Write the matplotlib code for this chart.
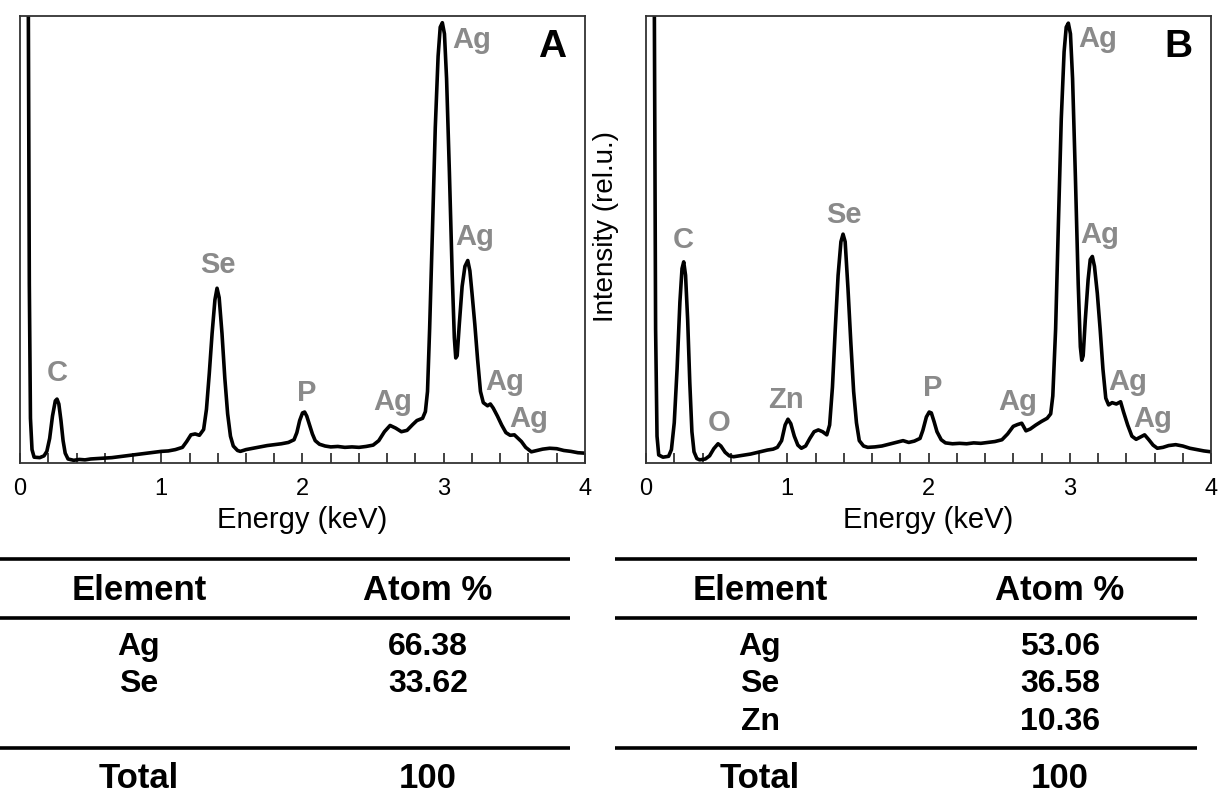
import matplotlib
matplotlib.use("Agg")
import matplotlib.pyplot as plt
from matplotlib.ticker import MultipleLocator

plt.rcParams['font.family'] = ['Liberation Sans', 'DejaVu Sans']

# --- spectrum A (energy in keV, intensity in % of axis height) ---
energy_a = [0.040, 0.058, 0.066, 0.074, 0.085, 0.100, 0.140, 0.170, 0.190, 0.210,
            0.230, 0.250, 0.262, 0.275, 0.290, 0.305, 0.320, 0.340, 0.380, 0.420,
            0.460, 0.500, 0.550, 0.600, 0.650, 0.700, 0.750, 0.800, 0.850, 0.900,
            0.950, 1.000, 1.050, 1.100, 1.150, 1.180, 1.210, 1.240, 1.270, 1.300,
            1.320, 1.340, 1.360, 1.380, 1.395, 1.410, 1.430, 1.450, 1.470, 1.490,
            1.510, 1.540, 1.560, 1.600, 1.650, 1.700, 1.750, 1.800, 1.850, 1.900,
            1.940, 1.960, 1.980, 2.000, 2.015, 2.030, 2.050, 2.070, 2.090, 2.120,
            2.160, 2.200, 2.250, 2.300, 2.350, 2.400, 2.450, 2.500, 2.540, 2.580,
            2.620, 2.660, 2.700, 2.740, 2.780, 2.810, 2.850, 2.870, 2.885, 2.900,
            2.920, 2.940, 2.960, 2.975, 2.990, 3.005, 3.020, 3.040, 3.060, 3.075,
            3.085, 3.095, 3.110, 3.130, 3.150, 3.170, 3.185, 3.200, 3.220, 3.240,
            3.260, 3.280, 3.310, 3.330, 3.350, 3.380, 3.410, 3.440, 3.470, 3.500,
            3.520, 3.550, 3.580, 3.620, 3.660, 3.700, 3.750, 3.800, 3.850, 3.900,
            3.950, 4.000]
counts_a = [120, 110, 40, 10, 3.0, 1.3, 1.2, 1.6, 2.6, 5.5,
            10.5, 13.9, 14.3, 13.2, 9.5, 5.0, 2.2, 0.9, 0.6, 0.8,
            0.7, 0.9, 1.0, 1.1, 1.2, 1.4, 1.6, 1.8, 2.0, 2.2,
            2.4, 2.6, 2.7, 3.0, 3.5, 4.8, 6.3, 6.5, 6.2, 7.5,
            12, 20, 29, 36.5, 39.1, 37, 29, 19, 11, 6.0,
            3.8, 2.8, 2.6, 3.0, 3.3, 3.6, 3.9, 4.1, 4.3, 4.6,
            5.2, 6.8, 9.5, 11.2, 11.4, 10.5, 8.5, 6.5, 5.0, 4.2,
            3.8, 3.6, 3.7, 3.5, 3.6, 3.5, 3.7, 4.0, 5.0, 7.0,
            8.4, 7.8, 7.0, 7.3, 8.6, 9.5, 10.0, 11.5, 16, 30,
            52, 75, 91, 97.5, 98.5, 96, 86, 65, 42, 28,
            23.5, 24, 31, 39.5, 44, 45.3, 43, 38, 31, 23,
            16, 13.5, 12.8, 13.2, 12.3, 10.5, 8.5, 6.8, 6.2, 6.3,
            5.7, 4.8, 3.5, 2.5, 2.8, 3.1, 3.3, 3.2, 2.8, 2.6,
            2.3, 2.2]

# --- spectrum B ---
energy_b = [0.040, 0.058, 0.068, 0.078, 0.090, 0.120, 0.160, 0.180, 0.200, 0.220,
            0.240, 0.255, 0.267, 0.280, 0.295, 0.310, 0.325, 0.340, 0.360, 0.380,
            0.420, 0.450, 0.480, 0.510, 0.530, 0.560, 0.590, 0.620, 0.660, 0.700,
            0.740, 0.780, 0.820, 0.860, 0.900, 0.930, 0.960, 0.985, 1.005, 1.025,
            1.050, 1.075, 1.100, 1.130, 1.160, 1.190, 1.220, 1.250, 1.280, 1.300,
            1.320, 1.340, 1.360, 1.380, 1.395, 1.410, 1.430, 1.450, 1.470, 1.490,
            1.510, 1.540, 1.570, 1.620, 1.670, 1.720, 1.770, 1.820, 1.860, 1.900,
            1.940, 1.960, 1.985, 2.005, 2.020, 2.040, 2.060, 2.090, 2.120, 2.170,
            2.220, 2.270, 2.320, 2.370, 2.420, 2.470, 2.520, 2.560, 2.600, 2.630,
            2.660, 2.690, 2.720, 2.760, 2.800, 2.840, 2.865, 2.880, 2.900, 2.920,
            2.940, 2.960, 2.975, 2.990, 3.005, 3.020, 3.040, 3.060, 3.075, 3.085,
            3.095, 3.110, 3.130, 3.145, 3.160, 3.175, 3.195, 3.215, 3.235, 3.255,
            3.275, 3.300, 3.330, 3.360, 3.380, 3.410, 3.440, 3.470, 3.500, 3.530,
            3.560, 3.590, 3.620, 3.660, 3.700, 3.750, 3.800, 3.850, 3.900, 3.950,
            4.000]
counts_b = [120, 110, 30, 6.0, 1.8, 1.3, 1.5, 3.0, 9.0, 21,
            36, 43.5, 45, 42, 32, 18, 7.0, 2.5, 1.0, 0.7,
            0.9, 1.6, 3.2, 4.3, 3.8, 2.4, 1.6, 1.4, 1.6, 1.8,
            2.0, 2.3, 2.6, 2.9, 3.1, 3.5, 5.0, 8.5, 9.8, 8.8,
            6.0, 4.0, 3.3, 3.8, 5.5, 7.0, 7.4, 7.0, 6.3, 8.5,
            17, 30, 42, 49.5, 51.2, 49.5, 39, 27, 16, 9.0,
            5.0, 3.8, 3.5, 3.6, 3.8, 4.2, 4.6, 5.0, 4.6, 4.9,
            5.5, 7.3, 10.3, 11.4, 11.2, 9.2, 7.0, 5.2, 4.5, 4.3,
            4.4, 4.3, 4.5, 4.4, 4.6, 4.8, 5.2, 6.5, 8.2, 8.6,
            8.9, 7.2, 7.6, 8.5, 9.3, 10.0, 11.0, 15, 30, 54,
            77, 92, 97.5, 98.4, 96, 86, 64, 40, 26, 23,
            24, 32, 41, 45.5, 46.2, 44, 38, 30, 21, 14.5,
            13.0, 13.5, 13.2, 13.7, 11.5, 8.5, 6.0, 5.3, 5.8, 6.3,
            5.2, 4.0, 3.3, 3.5, 3.9, 4.1, 3.8, 3.3, 3.0, 2.7,
            2.5]

# peak labels: (text, energy, height)
labels_a = [("C", 0.265, 20.1), ("Se", 1.40, 44.3), ("P", 2.03, 15.7),
            ("Ag", 2.64, 13.7), ("Ag", 3.20, 94.6), ("Ag", 3.22, 50.6),
            ("Ag", 3.43, 18.2), ("Ag", 3.60, 9.8)]
labels_b = [("C", 0.267, 49.9), ("O", 0.515, 9.0), ("Zn", 0.993, 14.2),
            ("Se", 1.40, 55.5), ("P", 2.03, 16.8), ("Ag", 2.63, 13.7),
            ("Ag", 3.20, 94.8), ("Ag", 3.21, 51.0), ("Ag", 3.41, 18.2),
            ("Ag", 3.59, 9.8)]

# composition tables
elements_a = ["Ag", "Se"]
atom_pct_a = ["66.38", "33.62"]
total_a = "100"
elements_b = ["Ag", "Se", "Zn"]
atom_pct_b = ["53.06", "36.58", "10.36"]
total_b = "100"

W, H = 1225, 796
fig = plt.figure(figsize=(W / 100, H / 100), dpi=100)

label_grey = "#8a8a8a"


def spectrum(ax, energy, counts, labels, letter, ylabel=False):
    ax.plot(energy, counts, color="black", lw=2.6, solid_joinstyle="round")
    ax.set_xlim(0, 4)
    ax.set_ylim(0, 100)
    ax.set_yticks([])
    ax.xaxis.set_major_locator(MultipleLocator(1))
    ax.xaxis.set_minor_locator(MultipleLocator(0.2))
    ax.tick_params(axis="x", which="both", direction="in", length=7,
                   width=1.2, color="#222222", labelsize=17, pad=11)
    for sp in ax.spines.values():
        sp.set_linewidth(1.3)
        sp.set_color("#333333")
    ax.set_xlabel("Energy (keV)", fontsize=21, labelpad=4)
    for txt, x, y in labels:
        ax.text(x, y, txt, color=label_grey, fontsize=21, fontweight="bold",
                ha="center", va="center")
    ax.text(3.77, 93, letter, fontsize=28, fontweight="bold",
            ha="center", va="center")
    if ylabel:
        ax.set_ylabel("Intensity (rel.u.)", fontsize=20)
        ax.yaxis.set_label_coords(-0.047, 0.53)


ax_a = fig.add_axes([20 / W, 1 - 463 / H, 565 / W, 447 / H])
ax_b = fig.add_axes([646 / W, 1 - 463 / H, 565 / W, 447 / H])
spectrum(ax_a, energy_a, counts_a, labels_a, "A")
spectrum(ax_b, energy_b, counts_b, labels_b, "B", ylabel=True)


def table(x0, x1, col1, col2, elements, pcts, total):
    # axes in pixel coordinates of the lower strip
    ax = fig.add_axes([0, 0, 1, 251 / H])
    ax.set_xlim(0, W)
    ax.set_ylim(796, 545)
    ax.axis("off")
    for yl in (559, 618, 748):
        ax.plot([x0, x1], [yl, yl], color="black", lw=2.6,
                solid_capstyle="butt")
    head = dict(fontsize=25, fontweight="bold", ha="center", va="baseline")
    row = dict(fontsize=23, fontweight="bold", ha="center", va="baseline")
    ax.text(col1, 600, "Element", **head)
    ax.text(col2, 600, "Atom %", **head)
    for i, (el, p) in enumerate(zip(elements, pcts)):
        y = 655 + 37.5 * i
        ax.text(col1, y, el, **row)
        ax.text(col2, y, p, **row)
    ax.text(col1, 788, "Total", **head)
    ax.text(col2, 788, total, **head)


table(0, 570, 139, 428, elements_a, atom_pct_a, total_a)
table(615, 1197, 760, 1060, elements_b, atom_pct_b, total_b)

fig.savefig("out.png", dpi=100)
